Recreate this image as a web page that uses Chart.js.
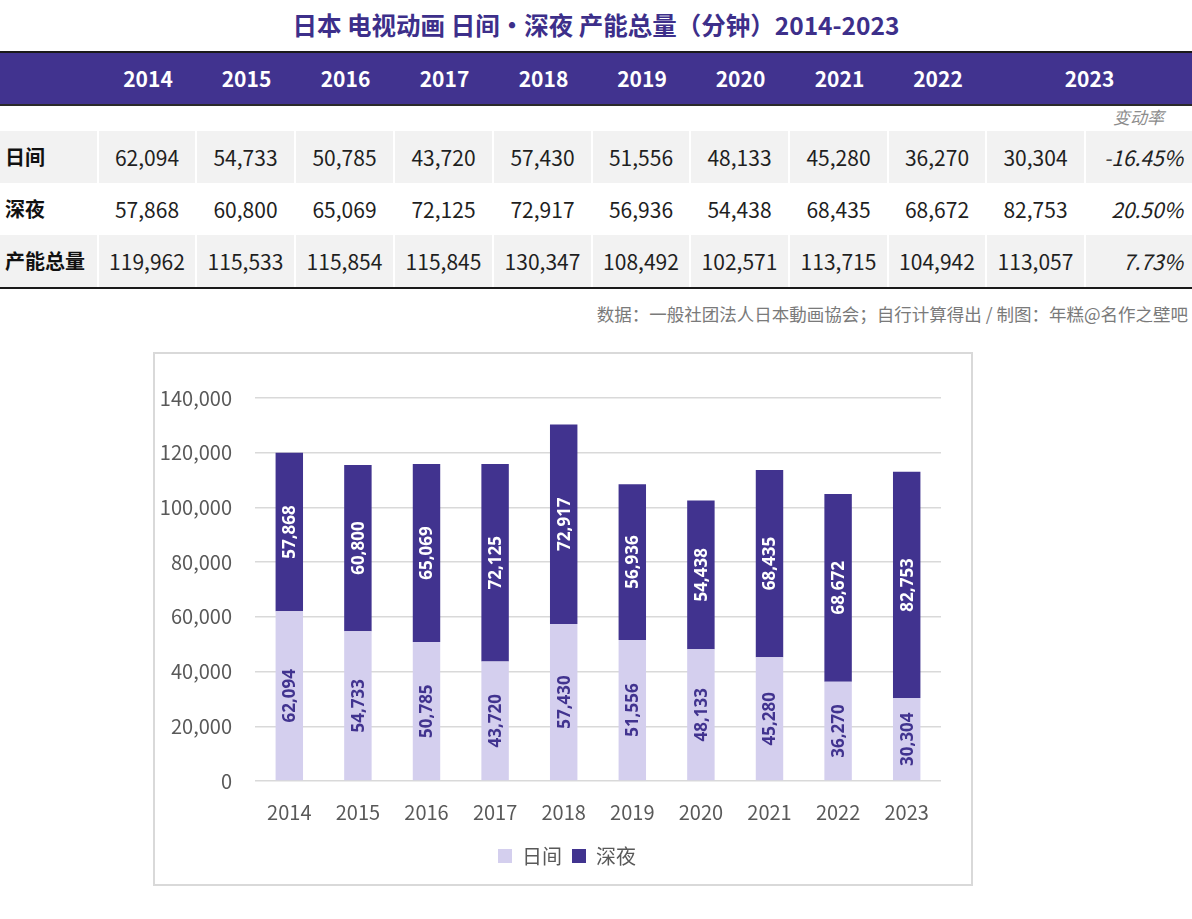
<!DOCTYPE html>
<html lang="zh-CN">
<head>
<meta charset="utf-8">
<title>日本 电视动画 日间・深夜 产能总量（分钟）2014-2023</title>
<script src="https://cdn.jsdelivr.net/npm/chart.js@4.4.1/dist/chart.umd.min.js"></script>
<style>
    html, body { margin: 0; padding: 0; background: #fff; }
    body { width: 1192px; height: 919px; position: relative; overflow: hidden; font-family: "Noto Sans CJK SC", "Noto Sans", sans-serif; }
    .abs { position: absolute; }
    #title { left: 0; top: 0; width: 1192px; height: 50px; line-height: 50px; text-align: center; font-size: 24.5px; font-weight: 700; color: #3d2f8a; }
    #topRule { left: 0; top: 51px; width: 1192px; height: 2px; background: #1a1a1a; }
    #headBand { left: 0; top: 53px; width: 1192px; height: 51px; background: #41338f; }
    #headRule { left: 0; top: 104px; width: 1192px; height: 2px; background: #2a2a2a; }
    #bottomRule { left: 0; top: 287px; width: 1192px; height: 2px; background: #1a1a1a; }
    .hcell { top: 53px; height: 51px; line-height: 51px; text-align: center; color: #fff; font-weight: 700; font-size: 21px; }
    .cell { height: 52px; line-height: 52px; text-align: center; font-size: 21px; color: #1f1f1f; white-space: nowrap; }
    .grey { background: #f2f2f2; }
    .rowLabel { text-align: left; padding-left: 5px; box-sizing: border-box; font-weight: 700; font-size: 20px; color: #111; }
    .rate { text-align: right; padding-right: 9px; box-sizing: border-box; font-style: italic; }
    #rateHead { right: 28px; top: 104px; height: 25px; line-height: 25px; font-size: 17px; font-style: italic; color: #8c8c8c; }
    #source { right: 4px; top: 300px; height: 28px; line-height: 28px; font-size: 17.5px; color: #7a7a7a; white-space: nowrap; }
    #chartBox { left: 153px; top: 352px; width: 816px; height: 530px; border: 2px solid #d9d9d9; }
    #chartBox canvas { display: block; }
</style>
</head>
<body>
<div id="title" class="abs">日本 电视动画 日间・深夜 产能总量（分钟）2014-2023</div>
<div id="topRule" class="abs"></div>
<div id="headBand" class="abs"></div>
<div id="headRule" class="abs"></div>
<div id="bottomRule" class="abs"></div>
<div id="rateHead" class="abs">变动率</div>
<div id="table"></div>
<div id="source" class="abs">数据：一般社团法人日本動画協会；自行计算得出 / 制图：年糕@名作之壁吧</div>
<div id="chartBox" class="abs"><canvas id="produccionChart" width="816" height="530"></canvas></div>

<script>
const years = ['2014', '2015', '2016', '2017', '2018', '2019', '2020', '2021', '2022', '2023'];
const seriesNames = ['日间', '深夜'];
const dayMinutes = [62094, 54733, 50785, 43720, 57430, 51556, 48133, 45280, 36270, 30304];
const nightMinutes = [57868, 60800, 65069, 72125, 72917, 56936, 54438, 68435, 68672, 82753];
const totalMinutes = [119962, 115533, 115854, 115845, 130347, 108492, 102571, 113715, 104942, 113057];
const rowNames = ['日间', '深夜', '产能总量'];
const changeRates = ['-16.45%', '20.50%', '7.73%'];
const yTickValues = [0, 20000, 40000, 60000, 80000, 100000, 120000, 140000];

const DARK = '#41338f';
const LIGHT = '#d4cfee';
const FONT = '"Noto Sans CJK SC", "Noto Sans", sans-serif';

const fmt = v => v.toLocaleString('en-US');

// bordes de columnas de la tabla (etiqueta, 10 años, variación)
const colEdges = [0, 99, 197, 296, 395, 494, 593, 691, 790, 889, 987, 1086, 1192];
const rowTops = [131, 183, 235];

function crearTabla() {
    const table = document.getElementById('table');
    const addCell = (cls, left, top, width, text) => {
        const div = document.createElement('div');
        div.className = 'abs ' + cls;
        div.style.left = left + 'px';
        if (top !== null) div.style.top = top + 'px';
        div.style.width = width + 'px';
        div.textContent = text;
        table.appendChild(div);
    };

    // cabecera
    years.forEach((y, i) => {
        let left = colEdges[i + 1];
        let right = i === years.length - 1 ? colEdges[colEdges.length - 1] : colEdges[i + 2];
        addCell('hcell', left, null, right - left, y);
    });

    const rows = [dayMinutes, nightMinutes, totalMinutes];
    rows.forEach((values, r) => {
        const grey = r !== 1 ? ' grey' : '';
        const top = rowTops[r];
        addCell('cell rowLabel' + grey, 0, top, colEdges[1] - 2, rowNames[r]);
        values.forEach((v, i) => {
            addCell('cell' + grey, colEdges[i + 1], top, colEdges[i + 2] - colEdges[i + 1] - 2, fmt(v));
        });
        addCell('cell rate' + grey, colEdges[11], top, colEdges[12] - colEdges[11], changeRates[r]);
    });
}

// etiquetas de valor giradas dentro de cada segmento
const barLabels = {
    id: 'barLabels',
    afterDatasetsDraw(chart) {
        const ctx = chart.ctx;
        chart.data.datasets.forEach((ds, i) => {
            const meta = chart.getDatasetMeta(i);
            meta.data.forEach((bar, j) => {
                const cy = (bar.y + bar.base) / 2;
                ctx.save();
                ctx.translate(bar.x, cy);
                ctx.rotate(-Math.PI / 2);
                ctx.font = 'bold 17px "Noto Sans", sans-serif';
                ctx.fillStyle = ds.labelColor;
                ctx.textAlign = 'center';
                ctx.textBaseline = 'middle';
                ctx.fillText(fmt(ds.data[j]), 0, 1);
                ctx.restore();
            });
        });
    }
};

// la leyenda va centrada un poco a la derecha, como en el original
const legendShift = {
    id: 'legendShift',
    afterLayout(chart) {
        chart.legend.left += 38;
    }
};

function crearGrafica() {
    const ctx = document.getElementById('produccionChart').getContext('2d');
    new Chart(ctx, {
        type: 'bar',
        data: {
            labels: years,
            datasets: [
                { label: seriesNames[0], data: dayMinutes, backgroundColor: LIGHT, labelColor: DARK },
                { label: seriesNames[1], data: nightMinutes, backgroundColor: DARK, labelColor: '#ffffff' }
            ]
        },
        options: {
            responsive: false,
            animation: false,
            layout: { padding: { left: 0, right: 30, top: 44, bottom: 8 } },
            datasets: { bar: { categoryPercentage: 0.8, barPercentage: 0.5 } },
            scales: {
                x: {
                    stacked: true,
                    grid: { display: false },
                    border: { display: false },
                    ticks: { padding: 11, color: '#595959', font: { family: FONT, size: 20 } },
                    afterFit(scale) { scale.height = 55; }
                },
                y: {
                    stacked: true,
                    min: 0,
                    max: 140000,
                    border: { display: false },
                    grid: { color: '#d9d9d9', lineWidth: 1.5, drawTicks: false },
                    ticks: { padding: 23, color: '#595959', font: { family: FONT, size: 20 }, callback: v => fmt(v) },
                    afterBuildTicks(scale) { scale.ticks = yTickValues.map(v => ({ value: v })); },
                    afterFit(scale) { scale.width = 100; }
                }
            },
            plugins: {
                legend: {
                    position: 'bottom',
                    labels: { boxWidth: 14, boxHeight: 14, padding: 10, color: '#595959', font: { family: FONT, size: 20 } }
                },
                tooltip: { enabled: false }
            }
        },
        plugins: [barLabels, legendShift]
    });
}

document.addEventListener('DOMContentLoaded', () => {
    crearTabla();
    crearGrafica();
});
</script>
</body>
</html>
